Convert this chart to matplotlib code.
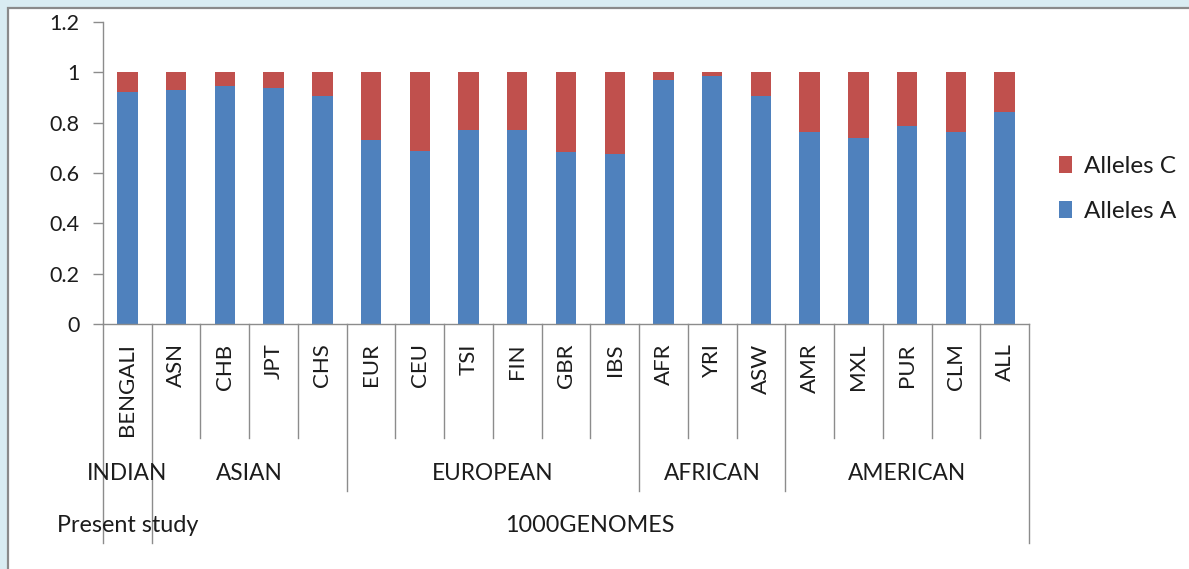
import matplotlib
matplotlib.use("Agg")
import matplotlib.pyplot as plt
from matplotlib import transforms
from matplotlib.patches import Rectangle

populations = ["BENGALI", "ASN", "CHB", "JPT", "CHS", "EUR", "CEU", "TSI", "FIN",
               "GBR", "IBS", "AFR", "YRI", "ASW", "AMR", "MXL", "PUR", "CLM", "ALL"]
alleles_a = [0.920, 0.930, 0.944, 0.938, 0.905, 0.730, 0.689, 0.770, 0.770, 0.682,
             0.674, 0.969, 0.985, 0.905, 0.762, 0.739, 0.785, 0.762, 0.841]
alleles_c = [0.080, 0.070, 0.056, 0.062, 0.095, 0.270, 0.311, 0.230, 0.230, 0.318,
             0.326, 0.031, 0.015, 0.095, 0.238, 0.261, 0.215, 0.238, 0.159]
regions = ["INDIAN", "ASIAN", "EUROPEAN", "AFRICAN", "AMERICAN"]
region_sizes = [1, 4, 6, 3, 5]
sources = ["Present study", "1000GENOMES"]
source_sizes = [1, 18]

BLUE = "#4F81BD"
RED = "#C0504D"
GRID = "#8C8C8C"
TEXT = "#1C1C1C"

plt.rcParams["font.family"] = ["Lato", "DejaVu Sans"]

W, H = 1189, 569
fig = plt.figure(figsize=(W / 100, H / 100), dpi=100)
fig.patch.set_facecolor("#D9ECF2")
# white chart area with grey frame (cropped at right/bottom)
fig.patches.append(Rectangle((7.5 / W, -0.1), 1.2, 1 - 7.5 / H + 0.1,
                             transform=fig.transFigure, facecolor="white",
                             edgecolor="#8A8A8A", linewidth=1.6, zorder=-5))


def fy(py):
    return 1 - py / H


ax = fig.add_axes([103 / W, fy(324), (1029 - 103) / W, (324 - 22) / H])
ax.set_facecolor("none")
x = list(range(len(populations)))
ax.bar(x, alleles_a, width=0.42, color=BLUE, label="Alleles A", zorder=2)
ax.bar(x, alleles_c, width=0.42, bottom=alleles_a, color=RED, label="Alleles C", zorder=2)

ax.set_xlim(-0.5, len(populations) - 0.5)
ax.set_ylim(0, 1.2)
ax.set_yticks([0, 0.2, 0.4, 0.6, 0.8, 1.0, 1.2])
ax.set_yticklabels(["0", "0.2", "0.4", "0.6", "0.8", "1", "1.2"])
ax.set_xticks(x)
ax.set_xticklabels(populations, rotation=90, va="top", ha="center")
ax.tick_params(axis="x", length=0, pad=14, labelsize=16, labelcolor=TEXT)
ax.tick_params(axis="y", length=7, width=1, color=GRID, pad=10, labelsize=15.5,
               labelcolor=TEXT)
for side in ["top", "right"]:
    ax.spines[side].set_visible(False)
for side in ["left", "bottom"]:
    ax.spines[side].set_color(GRID)
    ax.spines[side].set_linewidth(1)

# hierarchical category axis
trans = transforms.blended_transform_factory(ax.transData, fig.transFigure)
region_edges = [-0.5]
for s in region_sizes:
    region_edges.append(region_edges[-1] + s)
source_edges = [-0.5]
for s in source_sizes:
    source_edges.append(source_edges[-1] + s)

for i in range(len(populations) + 1):
    edge = i - 0.5
    if edge in source_edges:
        bottom = 543
    elif edge in region_edges:
        bottom = 491
    else:
        bottom = 438
    ax.plot([edge, edge], [fy(324), fy(bottom)], color=GRID, linewidth=1,
            transform=trans, clip_on=False, zorder=1)

for name, lo, hi in zip(regions, region_edges[:-1], region_edges[1:]):
    ax.text((lo + hi) / 2, fy(473), name, transform=trans, ha="center",
            va="center", fontsize=16.3, color=TEXT)
for name, lo, hi in zip(sources, source_edges[:-1], source_edges[1:]):
    ax.text((lo + hi) / 2, fy(526), name, transform=trans, ha="center",
            va="center", fontsize=16.8, color=TEXT)

handles, labels = ax.get_legend_handles_labels()
fig.legend(handles[::-1], labels[::-1], loc="center left",
           bbox_to_anchor=(1037 / W, fy(189)), frameon=False, fontsize=17.5,
           handlelength=0.55, handleheight=0.7, handletextpad=0.5,
           labelspacing=0.95, labelcolor=TEXT)

fig.savefig("out.png", dpi=100)
